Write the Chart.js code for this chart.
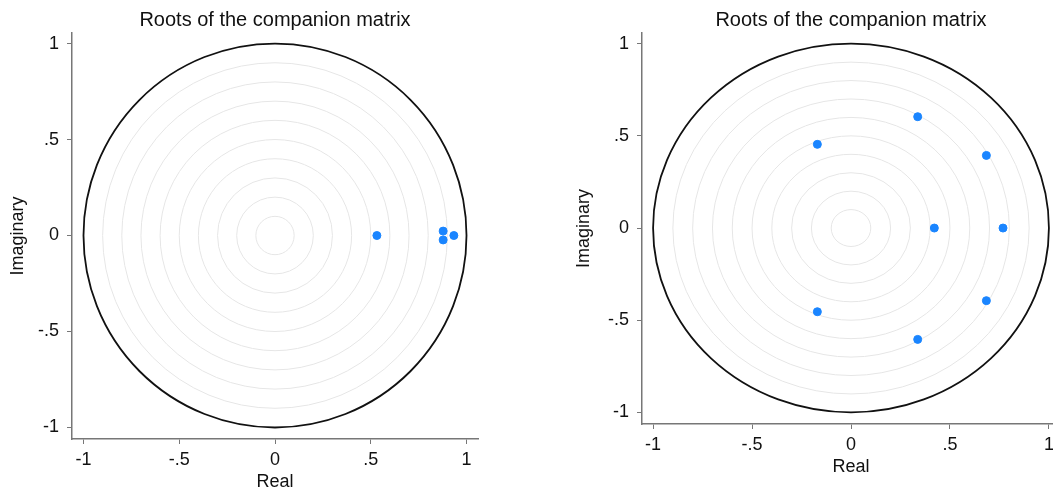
<!DOCTYPE html>
<html>
<head>
<meta charset="utf-8">
<script src="https://cdn.jsdelivr.net/npm/chart.js@4"></script>
<style>
  html, body { margin: 0; padding: 0; background: #fff; overflow: hidden; }
  body { width: 1053px; height: 493px; position: relative; }
  .panel { position: absolute; top: 0; height: 493px; }
  #panelLeft { left: 0; width: 520px; }
  #panelRight { left: 530px; width: 560px; }
</style>
</head>
<body>
<div class="panel" id="panelLeft"><canvas id="graficaIzq"></canvas></div>
<div class="panel" id="panelRight"><canvas id="graficaDer"></canvas></div>
<script>
// Raices del primer modelo (parte real / imaginaria)
const leftReal = [0.532, 0.878, 0.878, 0.934];
const leftImag = [0, 0.023, -0.023, 0];

// Raices del segundo modelo
const rightReal = [0.337, 0.337, -0.170, -0.170, 0.684, 0.684, 0.421, 0.768];
const rightImag = [0.604, -0.604, 0.454, -0.454, 0.394, -0.394, 0, 0];

// Ejes
const tickValues = [-1, -0.5, 0, 0.5, 1];
const tickLabels = ["-1", "-.5", "0", ".5", "1"];

// Circulos de referencia
const ringRadii = [0.1, 0.2, 0.3, 0.4, 0.5, 0.6, 0.7, 0.8, 0.9];
const unitRadius = 1;

const chartTitle = "Roots of the companion matrix";
const FONT = "'Liberation Sans', Arial, Helvetica, sans-serif";
const AXIS_GRAY = "#777";
const TEXT = "#111";

// Plugin: dibuja los circulos usando las escalas del grafico
const circlesPlugin = {
  id: "circulos",
  beforeDatasetsDraw(chart) {
    const { ctx, scales: { x, y } } = chart;
    const cx = x.getPixelForValue(0);
    const cy = y.getPixelForValue(0);
    const drawRing = (r, color, width) => {
      const rx = Math.abs(x.getPixelForValue(r) - cx);
      const ry = Math.abs(y.getPixelForValue(r) - cy);
      ctx.beginPath();
      ctx.ellipse(cx, cy, rx, ry, 0, 0, Math.PI * 2);
      ctx.strokeStyle = color;
      ctx.lineWidth = width;
      ctx.stroke();
    };
    ctx.save();
    ringRadii.forEach((r) => drawRing(r, "#e6e6e6", 1));
    drawRing(unitRadius, "#111", 1.8);
    ctx.restore();
  },
};

function crearGrafica(id, reales, imags, cfg) {
  const ticksCommon = (pad) => ({
    font: { family: FONT, size: 18 },
    color: TEXT,
    padding: pad,
    callback: (v) => tickLabels[tickValues.indexOf(v)],
  });
  const gridCommon = {
    drawOnChartArea: false,
    drawTicks: true,
    tickLength: 5,
    color: AXIS_GRAY,
  };

  new Chart(document.getElementById(id), {
    type: "scatter",
    data: {
      datasets: [
        {
          data: reales.map((r, i) => ({ x: r, y: imags[i] })),
          backgroundColor: "#1a85ff",
          borderColor: "#1a85ff",
          pointRadius: 4,
          pointHoverRadius: 4,
        },
      ],
    },
    options: {
      responsive: true,
      maintainAspectRatio: false,
      animation: false,
      layout: { padding: { left: 0, right: cfg.padRight, top: 0, bottom: 0 } },
      plugins: {
        legend: { display: false },
        tooltip: { enabled: false },
        title: {
          display: true,
          text: chartTitle,
          fullSize: false,
          color: TEXT,
          font: { family: FONT, size: 20, weight: "normal" },
          padding: { top: 8, bottom: 1 },
        },
      },
      scales: {
        x: {
          type: "linear",
          min: cfg.xMin,
          max: cfg.xMax,
          afterBuildTicks: (s) => { s.ticks = tickValues.map((v) => ({ value: v })); },
          afterFit: (s) => { s.height = cfg.xAxisHeight; },
          ticks: ticksCommon(5),
          grid: gridCommon,
          border: { display: true, color: AXIS_GRAY, width: 1.5 },
          title: {
            display: true,
            text: "Real",
            color: TEXT,
            font: { family: FONT, size: 18 },
            padding: { top: 0, bottom: cfg.xTitlePad },
          },
        },
        y: {
          type: "linear",
          min: cfg.yMin,
          max: cfg.yMax,
          afterBuildTicks: (s) => { s.ticks = tickValues.map((v) => ({ value: v })); },
          afterFit: (s) => { s.width = cfg.yAxisWidth; },
          ticks: ticksCommon(8),
          grid: gridCommon,
          border: { display: true, color: AXIS_GRAY, width: 1.5 },
          title: {
            display: true,
            text: "Imaginary",
            color: TEXT,
            font: { family: FONT, size: 18 },
            padding: { top: cfg.yTitlePad, bottom: 0 },
          },
        },
      },
    },
    plugins: [circlesPlugin],
  });
}

document.addEventListener("DOMContentLoaded", () => {
  crearGrafica("graficaIzq", leftReal, leftImag, {
    xMin: -1.06, xMax: 1.06, yMin: -1.06, yMax: 1.055,
    padRight: 42, xAxisHeight: 54, yAxisWidth: 72,
    xTitlePad: 0, yTitlePad: 7,
  });
  crearGrafica("graficaDer", rightReal, rightImag, {
    xMin: -1.056, xMax: 1.056, yMin: -1.063, yMax: 1.058,
    padRight: 30, xAxisHeight: 69, yAxisWidth: 112,
    xTitlePad: 15, yTitlePad: 43,
  });
});
</script>
</body>
</html>
